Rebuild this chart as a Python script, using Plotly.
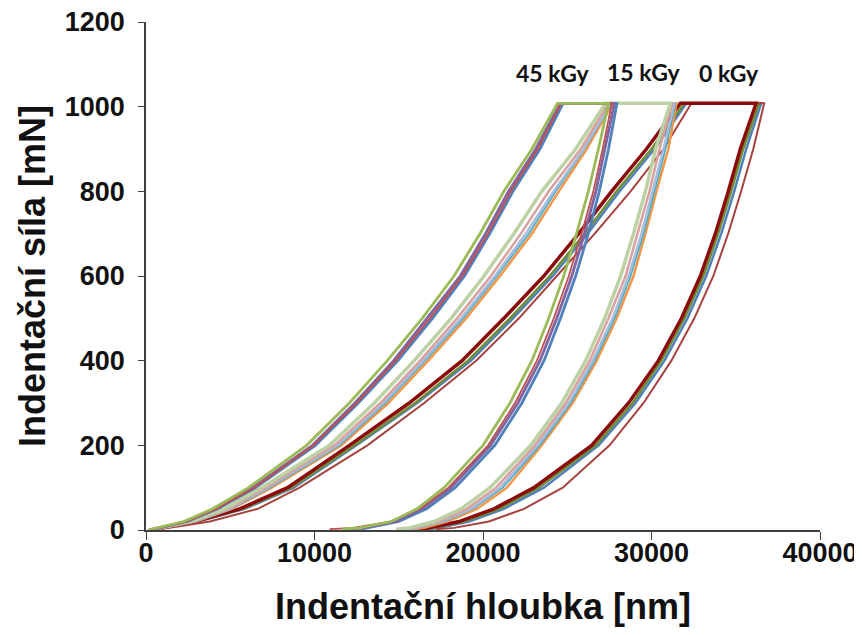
import plotly.graph_objects as go

# Force levels (mN)
LOAD_F = [0, 20, 50, 100, 200, 300, 400, 500, 600, 700, 800, 900, 1008]
UNLOAD_F = [1008, 900, 800, 700, 600, 500, 400, 300, 200, 100, 50, 20, 5, 2]

# ---- 45 kGy : depths (nm) ----
g45_load = [120, 2250, 3960, 6090, 9530, 12070, 14320, 16390, 18280, 19820, 21240, 22900, 24420]
g45_unload = [27450, 26850, 26250, 25550, 24790, 23900, 22900, 21600, 20000, 17690, 16090, 14560, 12660, 11660]
r45_load = [250, 2400, 4180, 6420, 9950, 12500, 14820, 16850, 18780, 20300, 21650, 23250, 24650]
r45_unload = [27650, 27100, 26550, 25850, 25090, 24200, 23200, 21900, 20300, 17950, 16250, 14500, 12300, 10900]
p45_load = [200, 2350, 4120, 6330, 9880, 12400, 14700, 16700, 18650, 20150, 21520, 23130, 24580]
p45_unload = [27800, 27250, 26700, 26020, 25270, 24380, 23380, 22070, 20450, 18100, 16400, 14800, 12900, 11950]
b45_load = [300, 2450, 4250, 6500, 10050, 12600, 14950, 17000, 18900, 20400, 21780, 23380, 24750]
b45_unload = [27950, 27450, 26900, 26250, 25500, 24600, 23620, 22310, 20700, 18350, 16650, 15000, 13200, 12750]

# ---- 15 kGy ----
lg15_load = [240, 2600, 4670, 6860, 10890, 13550, 15920, 18110, 20060, 21830, 23490, 25500, 27280]
lg15_unload = [31120, 30240, 29640, 28930, 28170, 27220, 26090, 24670, 22840, 20410, 18700, 17100, 15620, 14850]
pk15_load = [240, 2720, 4850, 7100, 11180, 13910, 16270, 18460, 20470, 22250, 23900, 25800, 27450]
pk15_unload = [31240, 30470, 29880, 29170, 28460, 27450, 26330, 24910, 23080, 20770, 19050, 17400, 15920, 15330]
lb15_load = [300, 2840, 4970, 7220, 11360, 14080, 16450, 18700, 20710, 22540, 24200, 25980, 27570]
lb15_unload = [31360, 30710, 30060, 29410, 28640, 27690, 26510, 25090, 23250, 21010, 19290, 17570, 16090, 15500]
aq15_load = [300, 2900, 5030, 7340, 11480, 14200, 16570, 18820, 20830, 22720, 24320, 26030, 27630]
aq15_unload = [31420, 30830, 30180, 29530, 28760, 27810, 26630, 25210, 23370, 21180, 19410, 17690, 16210, 15620]
or15_load = [360, 2960, 5090, 7460, 11600, 14380, 16750, 18990, 21010, 22900, 24500, 26150, 27690]
or15_unload = [31480, 31000, 30290, 29640, 28930, 27930, 26750, 25320, 23490, 21420, 19640, 17870, 16510, 15920]

# ---- 0 kGy ----
dr0_load = [240, 2900, 5560, 8400, 12070, 15620, 18760, 21240, 23610, 25680, 27630, 29700, 31720]
dr0_unload = [36210, 35270, 34560, 33790, 32900, 31780, 30410, 28640, 26450, 23020, 20650, 18580, 16800, 16090]
g0_load = [240, 3020, 5740, 8640, 12370, 15980, 19110, 21600, 23960, 26030, 27930, 30000, 31950]
g0_unload = [36390, 35440, 34730, 33960, 33080, 31950, 30590, 28880, 26690, 23310, 20950, 18880, 17100, 16390]
b0_load = [300, 3080, 5860, 8760, 12490, 16090, 19290, 21780, 24140, 26210, 28110, 30180, 32070]
b0_unload = [36510, 35620, 34910, 34140, 33250, 32130, 30770, 29050, 26860, 23610, 21240, 19170, 17400, 16690]
br0_load = [530, 3790, 6630, 9110, 13140, 16510, 19590, 22130, 24380, 26630, 28760, 30710, 32370]
br0_unload = [36690, 36040, 35320, 34550, 33670, 32540, 31180, 29530, 27510, 24730, 22430, 20350, 18280, 17220]

X_TICKS = [0, 10000, 20000, 30000, 40000]
Y_TICKS = [0, 200, 400, 600, 800, 1000, 1200]
GROUP_LABELS = ["45 kGy", "15 kGy", "0 kGy"]
LABEL_X = [24100, 29550, 34600]
LABEL_Y = [1080, 1083, 1080]

curves = [
    # (load, unload, color, width)
    (b0_load, b0_unload, "#4F81BD", 2.5),
    (g0_load, g0_unload, "#6E8C35", 2.5),
    (br0_load, br0_unload, "#A8423F", 2.0),
    (dr0_load, dr0_unload, "#8B0A0A", 3.5),
    (or15_load, or15_unload, "#F79646", 2.5),
    (aq15_load, aq15_unload, "#4BACC6", 1.8),
    (lb15_load, lb15_unload, "#A5BCDA", 2.5),
    (pk15_load, pk15_unload, "#D9A09E", 2.5),
    (lg15_load, lg15_unload, "#BCD1A4", 3.5),
    (b45_load, b45_unload, "#4F81BD", 2.8),
    (p45_load, p45_unload, "#8064A2", 2.8),
    (r45_load, r45_unload, "#C0504D", 1.8),
    (g45_load, g45_unload, "#9BBB59", 2.8),
]

fig = go.Figure()
for load, unload, color, w in curves:
    fig.add_trace(go.Scatter(
        x=load + unload, y=LOAD_F + UNLOAD_F, mode="lines",
        line=dict(color=color, width=w),
        showlegend=False, hoverinfo="skip"))

for t, x, y in zip(GROUP_LABELS, LABEL_X, LABEL_Y):
    fig.add_annotation(x=x, y=y, text=t, showarrow=False, xanchor="center",
                       font=dict(family="Lato", size=23, color="#111111", weight="bold"))

axis_font = dict(family="Liberation Sans, Arial", size=27, color="#111111", weight="bold")
title_font = dict(family="Liberation Sans, Arial", size=36, color="#111111", weight="bold")

fig.update_layout(
    width=862, height=635,
    margin=dict(l=138, r=50, t=14, b=113),
    plot_bgcolor="white", paper_bgcolor="white",
    xaxis=dict(range=[0, 40000], tickvals=X_TICKS, ticktext=[str(v) for v in X_TICKS],
               showgrid=False, zeroline=False, showline=True, linecolor="#404040",
               linewidth=1.5, ticks="outside", ticklen=8, tickcolor="#404040",
               tickfont=axis_font, ticklabelstandoff=-10, automargin=False,
               ticklabeloverflow="allow",
               title=dict(text="Indentační hloubka [nm]", font=title_font, standoff=27)),
    yaxis=dict(range=[0, 1200], tickvals=Y_TICKS, ticktext=[str(v) for v in Y_TICKS],
               showgrid=False, zeroline=False, showline=True, linecolor="#404040",
               linewidth=1.5, ticks="outside", ticklen=6, tickcolor="#404040",
               tickfont=axis_font, ticklabelstandoff=8, automargin=False,
               ticklabeloverflow="allow",
               title=dict(text="Indentační síla [mN]", font=title_font, standoff=8)),
)

fig.write_html("out.html")
